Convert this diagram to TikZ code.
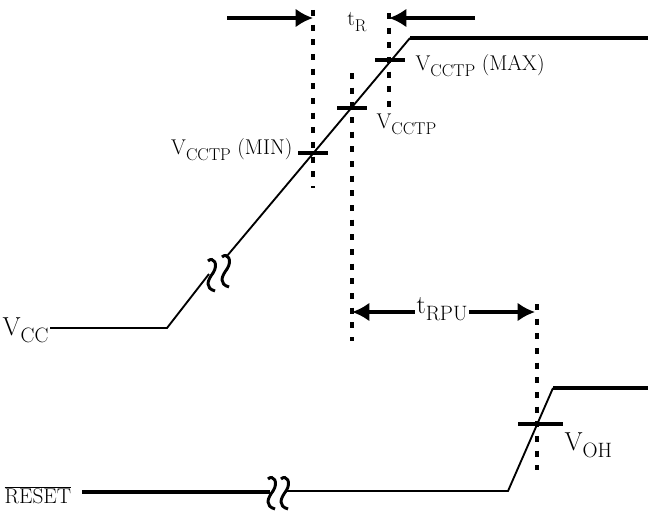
\documentclass[tikz,border=0pt]{standalone}
\usetikzlibrary{arrows.meta}
\tikzset{
    sig/.style={line width=1.4pt},
    sigthick/.style={line width=2.3pt},
    guide/.style={line width=2.8pt, dash pattern=on 4.5pt off 6.5pt},
    tickmark/.style={line width=2.6pt},
    squig/.style={line width=2.2pt},
    small/.style={inner sep=1pt, font=\fontsize{16}{18}\selectfont},
    big/.style={inner sep=1pt, font=\fontsize{19.5}{21}\selectfont},
}
\newcommand{\lowsub}[1]{\raisebox{-0.28em}{\scalebox{0.8}{#1}}}
% one wavy stroke of a break mark
\newcommand{\brkstroke}[2]{
    \draw[squig] (#1-4,#2-14) .. controls (#1+1,#2-19) and (#1+7,#2-11) .. (#1+1,#2-2)
        .. controls (#1-5,#2+6) and (#1-7,#2+13) .. (#1+3,#2+16);
}
\begin{document}
\begin{tikzpicture}[x=0.75pt,y=-0.75pt,>={Latex[length=13pt,width=14pt]}]
    \useasboundingbox (0,0) rectangle (648,510);
    % VCC
    \node[big,anchor=east] (lvcc) at (50,330) {V\lowsub{CC}};
    \coordinate (v0) at (167,328);
    \coordinate (v1) at (209,274);
    \coordinate (v2) at (227,256);
    \coordinate (vtop) at (410,38);
    \coordinate (vend) at (648,38);
    \draw[sig] (50,328) -- (v0) -- (v1);
    \draw[sig] (v2) -- (vtop);
    \draw[sigthick] (vtop) -- (vend);
    \brkstroke{212}{275}
    \brkstroke{226}{271}
    % levels on the slope
    \draw[tickmark] (298,153) -- (328,153);
    \draw[tickmark] (337,108) -- (367,108);
    \draw[tickmark] (375,60) -- (405,60);
    \node[small,anchor=east] (lmin) at (294,150) {V\lowsub{CCTP} (MIN)};
    \node[small,anchor=west] (lnom) at (375,124) {V\lowsub{CCTP}};
    \node[small,anchor=west] (lmax) at (414,66) {V\lowsub{CCTP} (MAX)};
    \draw[guide] (313,10) -- (313,188);
    \draw[guide] (352,73) -- (352,341);
    \draw[guide] (389,13) -- (389,112);
    % tR
    \node[small] (ltr) at (357,22) {t\lowsub{R}};
    \coordinate (ra) at (227,18);
    \coordinate (rb) at (475,18);
    \draw[sigthick,->] (ra) -- (313,18);
    \draw[sigthick,->] (rb) -- (389,18);
    % tRPU
    \node[big] (ltrpu) at (442,309) {t\lowsub{RPU}};
    \coordinate (pa) at (352,312);
    \coordinate (pb) at (535,312);
    \draw[sigthick,->] (ltrpu.west |- pa) -- (pa);
    \draw[sigthick,->] (ltrpu.east |- pb) -- (pb);
    \draw[guide] (537,304) -- (537,470);
    % RESET
    \node[inner sep=1pt,font=\fontsize{16}{18}\selectfont,anchor=west] (lreset) at (3,495) {$\overline{\mbox{RESET}}$};
    \coordinate (r0) at (82,492);
    \coordinate (r1) at (270,492);
    \coordinate (r2) at (287,491);
    \coordinate (r3) at (508,491);
    \coordinate (r4) at (553,388);
    \coordinate (r5) at (648,388);
    \draw[sigthick] (r0) -- (r1);
    \draw[sig] (r2) -- (r3) -- (r4);
    \draw[sigthick] (r4) -- (r5);
    \brkstroke{272}{493}
    \brkstroke{285}{493}
    \draw[tickmark] (518,424) -- (563,424);
    \node[big,anchor=west] (lvoh) at (563,445) {V\lowsub{OH}};
\end{tikzpicture}
\end{document}
